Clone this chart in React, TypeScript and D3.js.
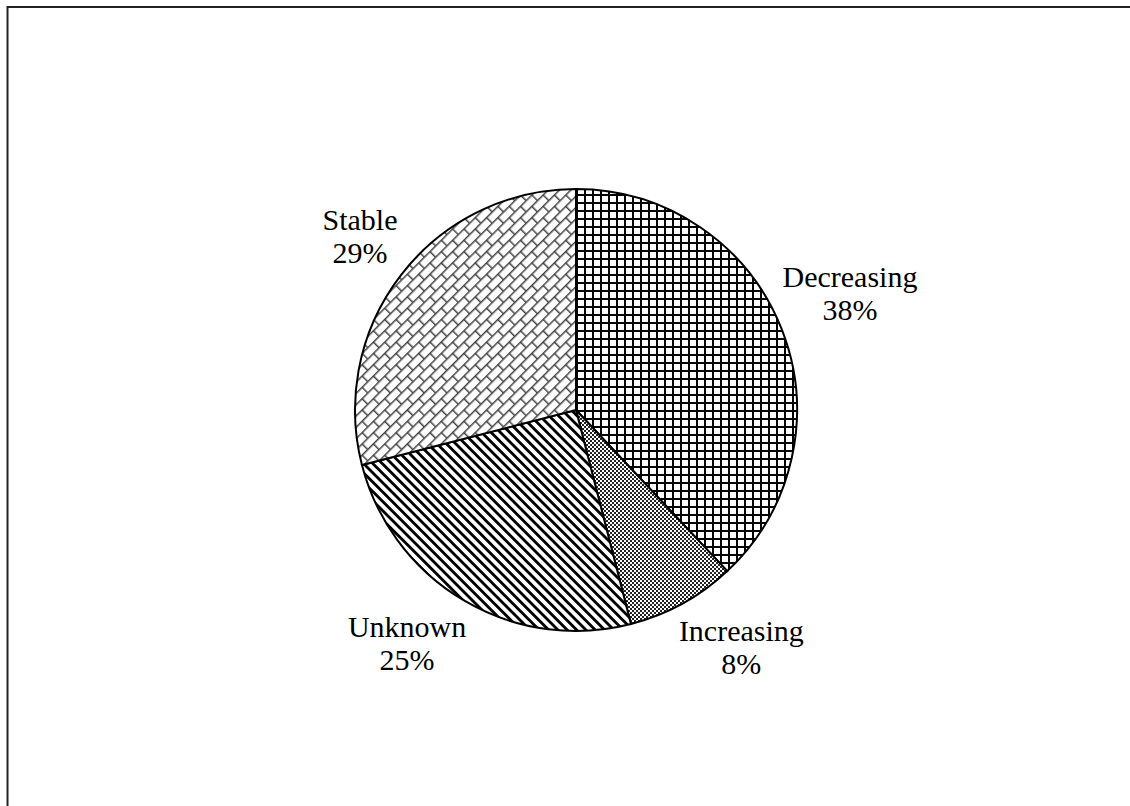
import React from "react";
import { pie, arc } from "d3";

const categories = ["Decreasing", "Increasing", "Unknown", "Stable"];
const shares = [38, 8, 25, 29];
const patternIds = ["grid", "checker", "stripes", "brick"];

const width = 1130;
const height = 806;
const cx = 576;
const cy = 410;
const radius = 221;
const labelGap = 12;
const fontSize = 30;
const fontFamily = "'Liberation Serif', 'Times New Roman', serif";
const boxHeight = 64;

// rough text width, used to push the label box out of the pie
const measure = (() => {
  const ctx = document.createElement("canvas").getContext("2d");
  return (t: string) => {
    if (!ctx) return t.length * fontSize * 0.45;
    ctx.font = `${fontSize}px ${fontFamily}`;
    return ctx.measureText(t).width;
  };
})();

const App = () => {
  const data = categories.map((c, i) => ({ name: c, value: shares[i], pat: patternIds[i] }));
  const slices = pie<any>().value(d => d.value).sort(null)(data);
  const pieArc = arc<any>().innerRadius(0).outerRadius(radius);

  return (
    <svg width={width} height={height} style={{ position: "absolute", left: 0, top: 0, background: "#fff" }}>
      <defs>
        <pattern id="grid" width={8} height={8} patternUnits="userSpaceOnUse">
          <rect width={8} height={8} fill="#fff" />
          <path d="M1,0V8M0,1H8" stroke="#000" strokeWidth={2} />
        </pattern>
        <pattern id="checker" width={4} height={4} patternUnits="userSpaceOnUse">
          <rect width={4} height={4} fill="#fff" />
          <rect width={2} height={2} fill="#222" />
          <rect x={2} y={2} width={2} height={2} fill="#222" />
        </pattern>
        <pattern id="stripes" width={6.6} height={6.6} patternUnits="userSpaceOnUse" patternTransform="rotate(45)">
          <rect width={6.6} height={6.6} fill="#fff" />
          <path d="M0,3.3H6.6" stroke="#000" strokeWidth={2.8} />
        </pattern>
        <pattern id="brick" width={16} height={16} patternUnits="userSpaceOnUse" patternTransform="rotate(-45)">
          <rect width={16} height={16} fill="#fff" />
          <path d="M0,0.75H16M0,8.75H16M0.75,0V8M8.75,8V16" stroke="#444" strokeWidth={1.5} />
        </pattern>
      </defs>
      <rect x={7.5} y={7} width={1400} height={1000} fill="none" stroke="#222" strokeWidth={2} />
      <g transform={`translate(${cx},${cy})`}>
        {slices.map(s => (
          <path key={s.data.name} d={pieArc(s) || ""} fill={`url(#${s.data.pat})`} stroke="#000" strokeWidth={2} />
        ))}
        {slices.map(s => {
          const mid = (s.startAngle + s.endAngle) / 2;
          const dx = Math.sin(mid);
          const dy = -Math.cos(mid);
          const w = Math.max(measure(s.data.name), measure(`${s.data.value}%`));
          // label box pushed outward from the mid-angle ray, just off the rim
          const r = radius + labelGap;
          const x = r * dx + Math.sign(dx) * w * 0.85 / 2;
          const y = r * dy + Math.sign(dy) * boxHeight / 2;
          return (
            <text key={s.data.name} x={x} y={y} textAnchor="middle"
              fontFamily={fontFamily} fontSize={fontSize} fill="#000">
              <tspan x={x} dy="-0.18em">{s.data.name}</tspan>
              <tspan x={x} dy="1.1em">{s.data.value}%</tspan>
            </text>
          );
        })}
      </g>
    </svg>
  );
};

export default App;
